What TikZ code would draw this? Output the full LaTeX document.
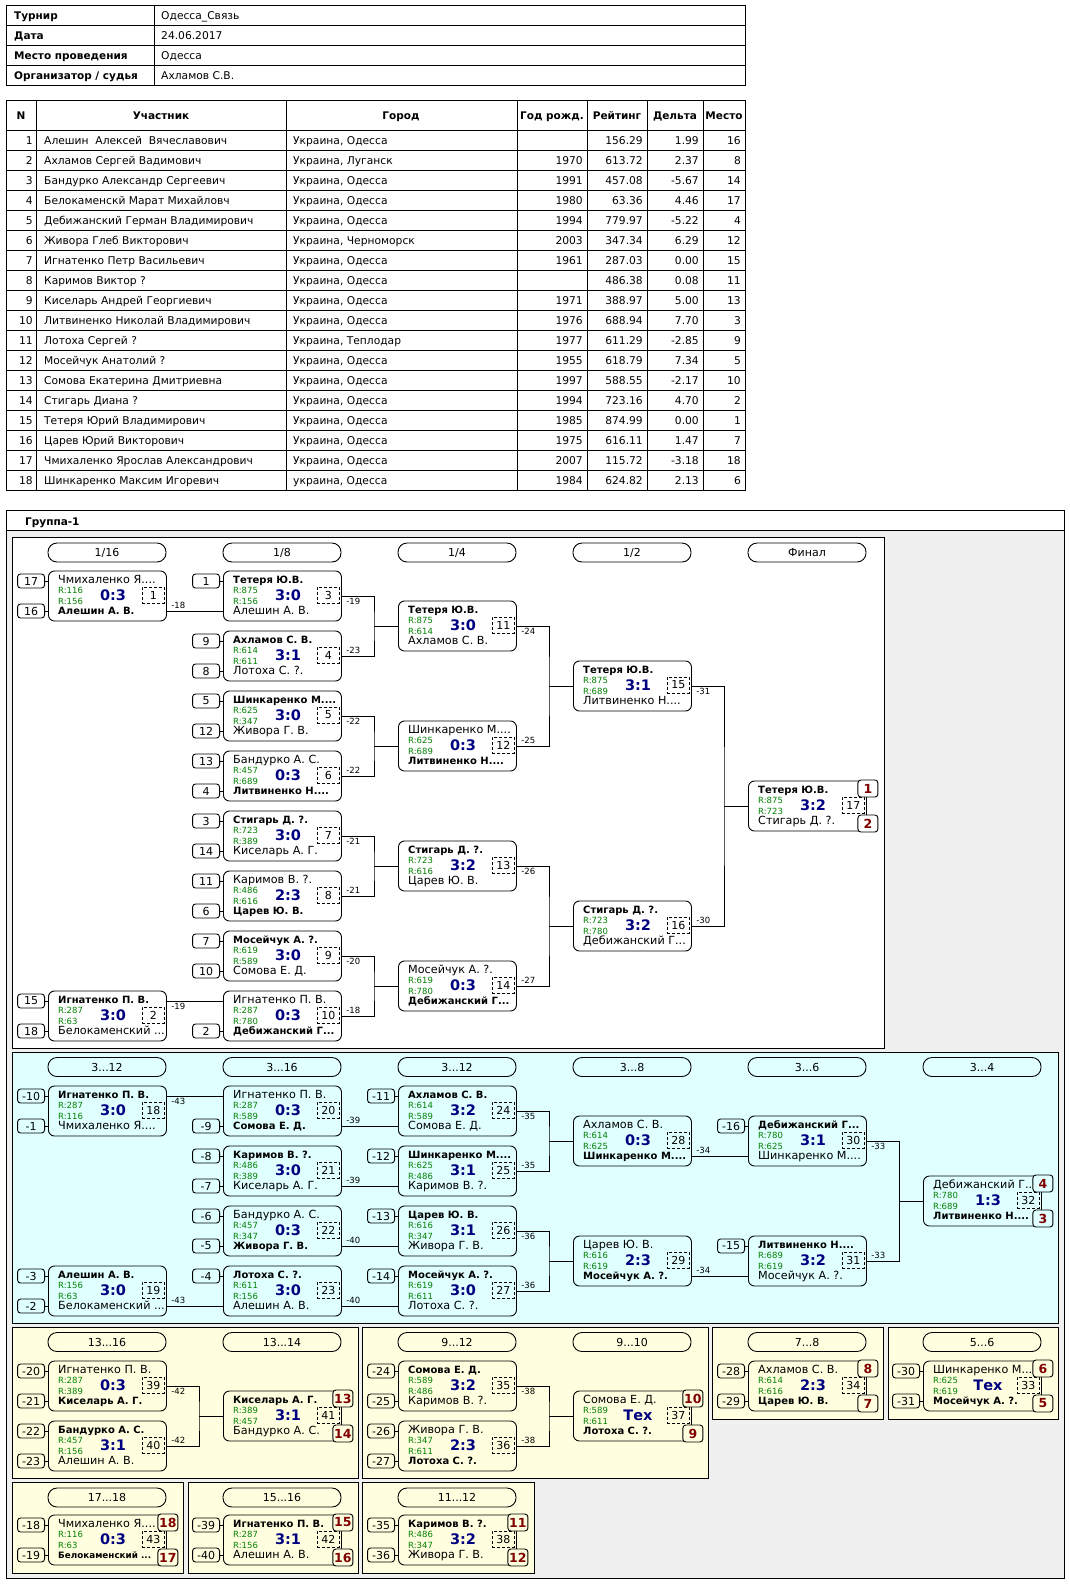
\documentclass[tikz,border=0pt]{standalone}
\usepackage{fontspec}
\setmainfont{DejaVu Sans}
\usetikzlibrary{positioning}
\definecolor{rgreen}{RGB}{0,128,0}
\definecolor{sblue}{RGB}{0,0,128}
\definecolor{pred}{RGB}{128,0,0}
\definecolor{cyanbg}{RGB}{224,255,255}
\definecolor{yelbg}{RGB}{255,255,224}
\definecolor{graybg}{RGB}{240,240,240}

\newcommand{\win}[1]{{\fontsize{10}{12}\selectfont\bfseries #1}}
% match box: id, left/centre, score, number, top name, R, bottom name, R
\newcommand{\mgame}[8]{%
  \node[gamebox, anchor=west] (#1) at (#2) {};
  \node[pname, anchor=base west] (#1-a) at ([shift={(10,13)}]#1.north west) {#5};
  \node[rate, anchor=west] (#1-ra) at ([shift={(10,20)}]#1.north west) {R:#6};
  \node[rate, anchor=west] (#1-rb) at ([shift={(10,31)}]#1.north west) {R:#8};
  \node[pname, anchor=base west] (#1-b) at ([shift={(10,44)}]#1.north west) {#7};
  \node[score] (#1-s) at ([shift={(65,25)}]#1.north west) {#3};
  \node[numbox, anchor=north east] (#1-n) at ([shift={(-2,16)}]#1.north east) {#4};
  \coordinate (#1-it) at ([shift={(0,-15)}]#1.west);
  \coordinate (#1-ib) at ([shift={(0,15)}]#1.west);
  \coordinate (#1-ot) at ([shift={(0,-15)}]#1.east);
  \coordinate (#1-ob) at ([shift={(0,15)}]#1.east);
}
\newcommand{\mseed}[3]{%
  \node[seedbox, left=3pt of #1-#2] (#1-#2-s) {#3};
  \draw[wire] (#1-#2-s) -- (#1-#2);
}
\newcommand{\mplace}[4]{%
  \node[placebox, fill=#4, anchor=north] (#1-p1) at ([shift={(1,-1)}]#1.north east) {#2};
  \node[placebox, fill=#4, anchor=south] (#1-p2) at ([shift={(1,1)}]#1.south east) {#3};
}
\newcommand{\mjoin}[5]{%
  \coordinate (#3-j) at ([xshift=-24pt]#3.west);
  \draw[wire] (#1.east) node[lbl, anchor=north west] (#1-l) {#4} -| (#3-j) |- (#2.east) node[lbl, anchor=south west] (#2-l) {#5};
  \draw[wire] (#3-j) -- (#3.west);
}
\newcommand{\prow}[7]{%
  \node[cell, anchor=base east] (p#1-n) at (33,{124+20*#1}) {#1};
  \node[cell, anchor=base west] (p#1-a) at (44,{124+20*#1}) {#2};
  \node[cell, anchor=base west] (p#1-c) at (293,{124+20*#1}) {#3};
  \node[cell, anchor=base east] (p#1-y) at (583,{124+20*#1}) {#4};
  \node[cell, anchor=base east] (p#1-r) at (643,{124+20*#1}) {#5};
  \node[cell, anchor=base east] (p#1-d) at (699,{124+20*#1}) {#6};
  \node[cell, anchor=base east] (p#1-m) at (741,{124+20*#1}) {#7};
}

\begin{document}
\begin{tikzpicture}[x=1pt, y=-1pt,
    wire/.style={line width=0.9pt},
    cell/.style={inner sep=0pt, font=\fontsize{10.7}{12}\selectfont},
    hcell/.style={inner sep=0pt, font=\fontsize{10.5}{12}\selectfont\bfseries},
    gamebox/.style={draw, line width=0.9pt, rounded corners=6pt, minimum width=118pt, minimum height=50pt, inner sep=0pt},
    pname/.style={inner sep=0pt, font=\fontsize{11.2}{13}\selectfont},
    rate/.style={inner sep=0pt, text=rgreen, font=\fontsize{8.5}{10}\selectfont},
    score/.style={inner sep=0pt, text=sblue, font=\fontsize{14.5}{16}\selectfont\bfseries},
    numbox/.style={draw, line width=0.9pt, dash pattern=on 3pt off 2pt, minimum width=22pt, minimum height=16pt, inner sep=0pt, font=\fontsize{11}{12}\selectfont},
    seedbox/.style={draw, line width=0.9pt, rounded corners=3pt, minimum width=27pt, minimum height=14pt, inner sep=0pt, font=\fontsize{11}{12}\selectfont},
    placebox/.style={draw, line width=0.9pt, rounded corners=3pt, minimum width=20pt, minimum height=17pt, inner sep=0pt, text=pred, font=\fontsize{12.5}{14}\selectfont\bfseries},
    stage/.style={draw, line width=0.9pt, rounded corners=9pt, minimum width=118pt, minimum height=19pt, inner sep=0pt, font=\fontsize{11}{12}\selectfont},
    lbl/.style={inner sep=2pt, xshift=2pt, font=\fontsize{8.5}{10}\selectfont}
]
\useasboundingbox (0,0) rectangle (1070,1585);
\fill[white] (0,0) rectangle (1070,1585);

\draw[wire] (6,5) rectangle (745,85);
\foreach \y in {25,45,65} \draw[wire] (6,\y) -- (745,\y);
\draw[wire] (154,5) -- (154,85);
\node[hcell, anchor=base west] (i1) at (14,19) {Турнир};
\node[hcell, anchor=base west] (i2) at (14,39) {Дата};
\node[hcell, anchor=base west] (i3) at (14,59) {Место проведения};
\node[hcell, anchor=base west] (i4) at (14,79) {Организатор / судья};
\node[cell, anchor=base west] (v1) at (161,19) {Одесса\_Связь};
\node[cell, anchor=base west] (v2) at (161,39) {24.06.2017};
\node[cell, anchor=base west] (v3) at (161,59) {Одесса};
\node[cell, anchor=base west] (v4) at (161,79) {Ахламов С.В.};

\draw[wire] (6,100) rectangle (745,490);
\foreach \y in {130,150,...,470} \draw[wire] (6,\y) -- (745,\y);
\foreach \x in {36,286,517,587,647,703} \draw[wire] (\x,100) -- (\x,490);
\node[hcell, anchor=base] (h1) at (21,119) {N};
\node[hcell, anchor=base] (h2) at (161,119) {Участник};
\node[hcell, anchor=base] (h3) at (401,119) {Город};
\node[hcell, anchor=base] (h4) at (552,119) {Год рожд.};
\node[hcell, anchor=base] (h5) at (617,119) {Рейтинг};
\node[hcell, anchor=base] (h6) at (675,119) {Дельта};
\node[hcell, anchor=base] (h7) at (724,119) {Место};
\prow{1}{Алешин~ Алексей~ Вячеславович}{Украина, Одесса}{}{156.29}{1.99}{16}
\prow{2}{Ахламов Сергей Вадимович}{Украина, Луганск}{1970}{613.72}{2.37}{8}
\prow{3}{Бандурко Александр Сергеевич}{Украина, Одесса}{1991}{457.08}{-5.67}{14}
\prow{4}{Белокаменскй Марат Михайловч}{Украина, Одесса}{1980}{63.36}{4.46}{17}
\prow{5}{Дебижанский Герман Владимирович}{Украина, Одесса}{1994}{779.97}{-5.22}{4}
\prow{6}{Живора Глеб Викторович}{Украина, Черноморск}{2003}{347.34}{6.29}{12}
\prow{7}{Игнатенко Петр Васильевич}{Украина, Одесса}{1961}{287.03}{0.00}{15}
\prow{8}{Каримов Виктор ?}{Украина, Одесса}{}{486.38}{0.08}{11}
\prow{9}{Киселарь Андрей Георгиевич}{Украина, Одесса}{1971}{388.97}{5.00}{13}
\prow{10}{Литвиненко Николай Владимирович}{Украина, Одесса}{1976}{688.94}{7.70}{3}
\prow{11}{Лотоха Сергей ?}{Украина, Теплодар}{1977}{611.29}{-2.85}{9}
\prow{12}{Мосейчук Анатолий ?}{Украина, Одесса}{1955}{618.79}{7.34}{5}
\prow{13}{Сомова Екатерина Дмитриевна}{Украина, Одесса}{1997}{588.55}{-2.17}{10}
\prow{14}{Стигарь Диана ?}{Украина, Одесса}{1994}{723.16}{4.70}{2}
\prow{15}{Тетеря Юрий Владимирович}{Украина, Одесса}{1985}{874.99}{0.00}{1}
\prow{16}{Царев Юрий Викторович}{Украина, Одесса}{1975}{616.11}{1.47}{7}
\prow{17}{Чмихаленко Ярослав Александрович}{Украина, Одесса}{2007}{115.72}{-3.18}{18}
\prow{18}{Шинкаренко Максим Игоревич}{украина, Одесса}{1984}{624.82}{2.13}{6}

\fill[graybg] (6,530) rectangle (1064,1578);
\draw[wire] (6,510) rectangle (1064,1578);
\draw[wire] (6,530) -- (1064,530);
\node[anchor=base west, inner sep=0pt, font=\fontsize{10.5}{12}\selectfont\bfseries] (grp) at (25,525) {Группа-1};
\draw[wire, fill=white] (12,537) rectangle (884,1048);
\draw[wire, fill=cyanbg] (12,1052) rectangle (1058,1323);
\draw[wire, fill=yelbg] (12,1327) rectangle (358,1478);
\draw[wire, fill=yelbg] (362,1327) rectangle (708,1478);
\draw[wire, fill=yelbg] (712,1327) rectangle (883,1419);
\draw[wire, fill=yelbg] (888,1327) rectangle (1058,1419);
\draw[wire, fill=yelbg] (12,1482) rectangle (183,1573);
\draw[wire, fill=yelbg] (188,1482) rectangle (358,1573);
\draw[wire, fill=yelbg] (362,1482) rectangle (534,1573);

\node[stage] (s1) at (107,552.5) {1/16};
\node[stage] (s2) at (282,552.5) {1/8};
\node[stage] (s3) at (457,552.5) {1/4};
\node[stage] (s4) at (632,552.5) {1/2};
\node[stage] (s5) at (807,552.5) {Финал};

\mgame{m1}{48,596}{0:3}{1}{Чмихаленко Я....}{116}{\win{Алешин А. В.}}{156}
\mseed{m1}{it}{17}
\mseed{m1}{ib}{16}
\mgame{m2}{48,1016}{3:0}{2}{\win{Игнатенко П. В.}}{287}{Белокаменский ...}{63}
\mseed{m2}{it}{15}
\mseed{m2}{ib}{18}
\mgame{m3}{223,596}{3:0}{3}{\win{Тетеря Ю.В.}}{875}{Алешин А. В.}{156}
\mseed{m3}{it}{1}
\mgame{m4}{223,656}{3:1}{4}{\win{Ахламов С. В.}}{614}{Лотоха С. ?.}{611}
\mseed{m4}{it}{9}
\mseed{m4}{ib}{8}
\mgame{m5}{223,716}{3:0}{5}{\win{Шинкаренко М....}}{625}{Живора Г. В.}{347}
\mseed{m5}{it}{5}
\mseed{m5}{ib}{12}
\mgame{m6}{223,776}{0:3}{6}{Бандурко А. С.}{457}{\win{Литвиненко Н....}}{689}
\mseed{m6}{it}{13}
\mseed{m6}{ib}{4}
\mgame{m7}{223,836}{3:0}{7}{\win{Стигарь Д. ?.}}{723}{Киселарь А. Г.}{389}
\mseed{m7}{it}{3}
\mseed{m7}{ib}{14}
\mgame{m8}{223,896}{2:3}{8}{Каримов В. ?.}{486}{\win{Царев Ю. В.}}{616}
\mseed{m8}{it}{11}
\mseed{m8}{ib}{6}
\mgame{m9}{223,956}{3:0}{9}{\win{Мосейчук А. ?.}}{619}{Сомова Е. Д.}{589}
\mseed{m9}{it}{7}
\mseed{m9}{ib}{10}
\mgame{m10}{223,1016}{0:3}{10}{Игнатенко П. В.}{287}{\win{Дебижанский Г...}}{780}
\mseed{m10}{ib}{2}
\mgame{m11}{398,626}{3:0}{11}{\win{Тетеря Ю.В.}}{875}{Ахламов С. В.}{614}
\mgame{m12}{398,746}{0:3}{12}{Шинкаренко М....}{625}{\win{Литвиненко Н....}}{689}
\mgame{m13}{398,866}{3:2}{13}{\win{Стигарь Д. ?.}}{723}{Царев Ю. В.}{616}
\mgame{m14}{398,986}{0:3}{14}{Мосейчук А. ?.}{619}{\win{Дебижанский Г...}}{780}
\mgame{m15}{573,686}{3:1}{15}{\win{Тетеря Ю.В.}}{875}{Литвиненко Н....}{689}
\mgame{m16}{573,926}{3:2}{16}{\win{Стигарь Д. ?.}}{723}{Дебижанский Г...}{780}
\mgame{m17}{748,806}{3:2}{17}{\win{Тетеря Ю.В.}}{875}{Стигарь Д. ?.}{723}
\mplace{m17}{1}{2}{white}
\draw[wire] (m1-ob) node[lbl, anchor=south west] (m1-l) {-18} -- (m3-ib);
\draw[wire] (m2-ot) node[lbl, anchor=north west] (m2-l) {-19} -- (m10-it);
\mjoin{m3}{m4}{m11}{-19}{-23}
\mjoin{m5}{m6}{m12}{-22}{-22}
\mjoin{m7}{m8}{m13}{-21}{-21}
\mjoin{m9}{m10}{m14}{-20}{-18}
\mjoin{m11}{m12}{m15}{-24}{-25}
\mjoin{m13}{m14}{m16}{-26}{-27}
\mjoin{m15}{m16}{m17}{-31}{-30}

\node[stage] (s6) at (107,1067) {3...12};
\node[stage] (s7) at (282,1067) {3...16};
\node[stage] (s8) at (457,1067) {3...12};
\node[stage] (s9) at (632,1067) {3...8};
\node[stage] (s10) at (807,1067) {3...6};
\node[stage] (s11) at (982,1067) {3...4};

\mgame{m18}{48,1111}{3:0}{18}{\win{Игнатенко П. В.}}{287}{Чмихаленко Я....}{116}
\mseed{m18}{it}{-10}
\mseed{m18}{ib}{-1}
\mgame{m19}{48,1291}{3:0}{19}{\win{Алешин А. В.}}{156}{Белокаменский ...}{63}
\mseed{m19}{it}{-3}
\mseed{m19}{ib}{-2}
\mgame{m20}{223,1111}{0:3}{20}{Игнатенко П. В.}{287}{\win{Сомова Е. Д.}}{589}
\mseed{m20}{ib}{-9}
\mgame{m21}{223,1171}{3:0}{21}{\win{Каримов В. ?.}}{486}{Киселарь А. Г.}{389}
\mseed{m21}{it}{-8}
\mseed{m21}{ib}{-7}
\mgame{m22}{223,1231}{0:3}{22}{Бандурко А. С.}{457}{\win{Живора Г. В.}}{347}
\mseed{m22}{it}{-6}
\mseed{m22}{ib}{-5}
\mgame{m23}{223,1291}{3:0}{23}{\win{Лотоха С. ?.}}{611}{Алешин А. В.}{156}
\mseed{m23}{it}{-4}
\mgame{m24}{398,1111}{3:2}{24}{\win{Ахламов С. В.}}{614}{Сомова Е. Д.}{589}
\mseed{m24}{it}{-11}
\mgame{m25}{398,1171}{3:1}{25}{\win{Шинкаренко М....}}{625}{Каримов В. ?.}{486}
\mseed{m25}{it}{-12}
\mgame{m26}{398,1231}{3:1}{26}{\win{Царев Ю. В.}}{616}{Живора Г. В.}{347}
\mseed{m26}{it}{-13}
\mgame{m27}{398,1291}{3:0}{27}{\win{Мосейчук А. ?.}}{619}{Лотоха С. ?.}{611}
\mseed{m27}{it}{-14}
\mgame{m28}{573,1141}{0:3}{28}{Ахламов С. В.}{614}{\win{Шинкаренко М....}}{625}
\mgame{m29}{573,1261}{2:3}{29}{Царев Ю. В.}{616}{\win{Мосейчук А. ?.}}{619}
\mgame{m30}{748,1141}{3:1}{30}{\win{Дебижанский Г...}}{780}{Шинкаренко М....}{625}
\mseed{m30}{it}{-16}
\mgame{m31}{748,1261}{3:2}{31}{\win{Литвиненко Н....}}{689}{Мосейчук А. ?.}{619}
\mseed{m31}{it}{-15}
\mgame{m32}{923,1201}{1:3}{32}{Дебижанский Г...}{780}{\win{Литвиненко Н....}}{689}
\mplace{m32}{4}{3}{cyanbg}
\draw[wire] (m18-ot) node[lbl, anchor=north west] (m18-l) {-43} -- (m20-it);
\draw[wire] (m19-ob) node[lbl, anchor=south west] (m19-l) {-43} -- (m23-ib);
\draw[wire] (m20-ob) node[lbl, anchor=south west] (m20-l) {-39} -- (m24-ib);
\draw[wire] (m21-ob) node[lbl, anchor=south west] (m21-l) {-39} -- (m25-ib);
\draw[wire] (m22-ob) node[lbl, anchor=south west] (m22-l) {-40} -- (m26-ib);
\draw[wire] (m23-ob) node[lbl, anchor=south west] (m23-l) {-40} -- (m27-ib);
\mjoin{m24}{m25}{m28}{-35}{-35}
\mjoin{m26}{m27}{m29}{-36}{-36}
\draw[wire] (m28-ob) node[lbl, anchor=south west] (m28-l) {-34} -- (m30-ib);
\draw[wire] (m29-ob) node[lbl, anchor=south west] (m29-l) {-34} -- (m31-ib);
\mjoin{m30}{m31}{m32}{-33}{-33}

\node[stage] (s12) at (107,1342) {13...16};
\node[stage] (s13) at (282,1342) {13...14};
\node[stage] (s14) at (457,1342) {9...12};
\node[stage] (s15) at (632,1342) {9...10};
\node[stage] (s16) at (807,1342) {7...8};
\node[stage] (s17) at (982,1342) {5...6};
\node[stage] (s18) at (107,1497.5) {17...18};
\node[stage] (s19) at (282,1497.5) {15...16};
\node[stage] (s20) at (457,1497.5) {11...12};

\mgame{m39}{48,1386}{0:3}{39}{Игнатенко П. В.}{287}{\win{Киселарь А. Г.}}{389}
\mseed{m39}{it}{-20}
\mseed{m39}{ib}{-21}
\mgame{m40}{48,1446}{3:1}{40}{\win{Бандурко А. С.}}{457}{Алешин А. В.}{156}
\mseed{m40}{it}{-22}
\mseed{m40}{ib}{-23}
\mgame{m41}{223,1416}{3:1}{41}{\win{Киселарь А. Г.}}{389}{Бандурко А. С.}{457}
\mplace{m41}{13}{14}{yelbg}
\mjoin{m39}{m40}{m41}{-42}{-42}
\mgame{m35}{398,1386}{3:2}{35}{\win{Сомова Е. Д.}}{589}{Каримов В. ?.}{486}
\mseed{m35}{it}{-24}
\mseed{m35}{ib}{-25}
\mgame{m36}{398,1446}{2:3}{36}{Живора Г. В.}{347}{\win{Лотоха С. ?.}}{611}
\mseed{m36}{it}{-26}
\mseed{m36}{ib}{-27}
\mgame{m37}{573,1416}{Тех}{37}{Сомова Е. Д.}{589}{\win{Лотоха С. ?.}}{611}
\mplace{m37}{10}{9}{yelbg}
\mjoin{m35}{m36}{m37}{-38}{-38}
\mgame{m34}{748,1386}{2:3}{34}{Ахламов С. В.}{614}{\win{Царев Ю. В.}}{616}
\mseed{m34}{it}{-28}
\mseed{m34}{ib}{-29}
\mplace{m34}{8}{7}{yelbg}
\mgame{m33}{923,1386}{Тех}{33}{Шинкаренко М....}{625}{\win{Мосейчук А. ?.}}{619}
\mseed{m33}{it}{-30}
\mseed{m33}{ib}{-31}
\mplace{m33}{6}{5}{yelbg}
\mgame{m43}{48,1540}{0:3}{43}{Чмихаленко Я....}{116}{{\fontsize{8.8}{11}\selectfont\bfseries Белокаменский ...}}{63}
\mseed{m43}{it}{-18}
\mseed{m43}{ib}{-19}
\mplace{m43}{18}{17}{yelbg}
\mgame{m42}{223,1540}{3:1}{42}{\win{Игнатенко П. В.}}{287}{Алешин А. В.}{156}
\mseed{m42}{it}{-39}
\mseed{m42}{ib}{-40}
\mplace{m42}{15}{16}{yelbg}
\mgame{m38}{398,1540}{3:2}{38}{\win{Каримов В. ?.}}{486}{Живора Г. В.}{347}
\mseed{m38}{it}{-35}
\mseed{m38}{ib}{-36}
\mplace{m38}{11}{12}{yelbg}
\end{tikzpicture}
\end{document}
